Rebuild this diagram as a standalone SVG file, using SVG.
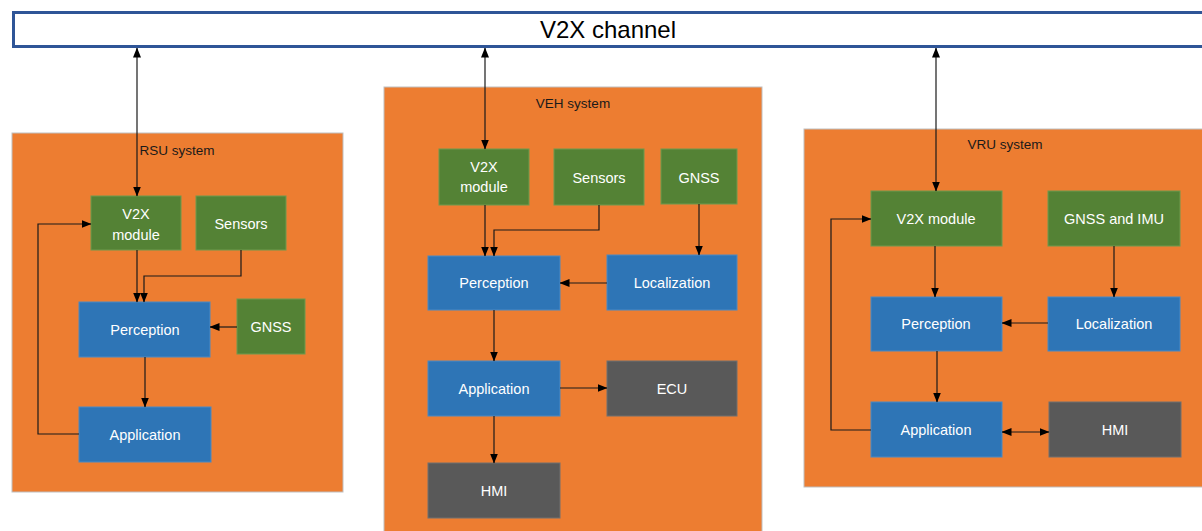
<svg xmlns="http://www.w3.org/2000/svg" width="1202" height="531" viewBox="0 0 1202 531">
<style>
.sys{fill:#ED7D31;stroke:#BFBFBF;stroke-width:1}
.g{fill:#548235;stroke:#6E9A4E;stroke-width:1}
.b{fill:#2E75B6;stroke:#4A8AC4;stroke-width:1}
.k{fill:#595959;stroke:#707070;stroke-width:1}
.t{font-family:"Liberation Sans",Arial,sans-serif;font-size:14.5px;fill:#FFFFFF;text-anchor:middle}
.st{font-family:"Liberation Sans",Arial,sans-serif;font-size:13.5px;fill:#1A1A1A;text-anchor:middle}
.c{fill:none;stroke:#1A1A1A;stroke-width:1.2}
</style>
<defs>
<marker id="ah" markerUnits="userSpaceOnUse" markerWidth="10" markerHeight="10" viewBox="0 0 10 10" refX="9.5" refY="5" orient="auto-start-reverse">
<path d="M0,1 L10,5 L0,9 Z" fill="#000"/>
</marker>
</defs>
<rect width="1202" height="531" fill="#FFFFFF"/>
<g id="channel">
<rect x="13.5" y="12.5" width="1200" height="34" fill="#FFFFFF" stroke="#2F5597" stroke-width="3"/>
<text x="608" y="37.5" font-family="Liberation Sans,Arial,sans-serif" font-size="24" fill="#000" text-anchor="middle">V2X channel</text>
</g>
<g id="rsu-system">
<rect class="sys" x="12" y="133" width="331" height="359"/>
<text class="st" x="177" y="155">RSU system</text>
</g>
<g id="veh-system">
<rect class="sys" x="384" y="87" width="378" height="450"/>
<text class="st" x="573" y="108">VEH system</text>
</g>
<g id="vru-system">
<rect class="sys" x="804" y="129" width="402" height="358"/>
<text class="st" x="1005" y="149">VRU system</text>
</g>
<g id="rsu-v2x"><rect class="g" x="91" y="196" width="90" height="54"/><text class="t" x="136" y="219">V2X</text><text class="t" x="136" y="240">module</text></g>
<g id="rsu-sensors"><rect class="g" x="196" y="196" width="90" height="54"/><text class="t" x="241" y="229">Sensors</text></g>
<g id="rsu-perception"><rect class="b" x="79" y="302" width="131" height="55"/><text class="t" x="145" y="335">Perception</text></g>
<g id="rsu-gnss"><rect class="g" x="237" y="299" width="68" height="55"/><text class="t" x="271" y="332">GNSS</text></g>
<g id="rsu-application"><rect class="b" x="79" y="407" width="132" height="55"/><text class="t" x="145" y="440">Application</text></g>
<g id="veh-v2x"><rect class="g" x="439" y="149" width="90" height="56"/><text class="t" x="484" y="172">V2X</text><text class="t" x="484" y="192">module</text></g>
<g id="veh-sensors"><rect class="g" x="554" y="149" width="90" height="56"/><text class="t" x="599" y="183">Sensors</text></g>
<g id="veh-gnss"><rect class="g" x="661" y="149" width="76" height="55"/><text class="t" x="699" y="183">GNSS</text></g>
<g id="veh-perception"><rect class="b" x="428" y="256" width="132" height="54"/><text class="t" x="494" y="288">Perception</text></g>
<g id="veh-localization"><rect class="b" x="607" y="255" width="130" height="55"/><text class="t" x="672" y="288">Localization</text></g>
<g id="veh-application"><rect class="b" x="428" y="361" width="132" height="55"/><text class="t" x="494" y="394">Application</text></g>
<g id="veh-ecu"><rect class="k" x="607" y="361" width="130" height="55"/><text class="t" x="672" y="394">ECU</text></g>
<g id="veh-hmi"><rect class="k" x="428" y="463" width="132" height="55"/><text class="t" x="494" y="496">HMI</text></g>
<g id="vru-v2x"><rect class="g" x="871" y="191" width="131" height="55"/><text class="t" x="936" y="224">V2X module</text></g>
<g id="vru-gnss"><rect class="g" x="1048" y="191" width="132" height="55"/><text class="t" x="1114" y="224">GNSS and IMU</text></g>
<g id="vru-perception"><rect class="b" x="871" y="297" width="131" height="54"/><text class="t" x="936" y="329">Perception</text></g>
<g id="vru-localization"><rect class="b" x="1048" y="297" width="132" height="54"/><text class="t" x="1114" y="329">Localization</text></g>
<g id="vru-application"><rect class="b" x="871" y="402" width="131" height="55"/><text class="t" x="936" y="435">Application</text></g>
<g id="vru-hmi"><rect class="k" x="1049" y="402" width="132" height="55"/><text class="t" x="1115" y="435">HMI</text></g>
<g id="connectors">
<path class="c" d="M137,48 L137,196" marker-start="url(#ah)" marker-end="url(#ah)"/>
<path class="c" d="M137,250 L137,302" marker-end="url(#ah)"/>
<path class="c" d="M241,250 L241,276 L144,276 L144,302" marker-end="url(#ah)"/>
<path class="c" d="M237,327 L210,327" marker-end="url(#ah)"/>
<path class="c" d="M145,357 L145,407" marker-end="url(#ah)"/>
<path class="c" d="M79,434 L38,434 L38,224 L91,224" marker-end="url(#ah)"/>
<path class="c" d="M485,48 L485,149" marker-start="url(#ah)" marker-end="url(#ah)"/>
<path class="c" d="M485,205 L485,256" marker-end="url(#ah)"/>
<path class="c" d="M599,205 L599,230 L494,230 L494,256" marker-end="url(#ah)"/>
<path class="c" d="M699,204 L699,255" marker-end="url(#ah)"/>
<path class="c" d="M607,283 L560,283" marker-end="url(#ah)"/>
<path class="c" d="M494,310 L494,361" marker-end="url(#ah)"/>
<path class="c" d="M560,388 L607,388" marker-end="url(#ah)"/>
<path class="c" d="M494,416 L494,463" marker-end="url(#ah)"/>
<path class="c" d="M936,48 L936,191" marker-start="url(#ah)" marker-end="url(#ah)"/>
<path class="c" d="M935,246 L935,297" marker-end="url(#ah)"/>
<path class="c" d="M1114,246 L1114,297" marker-end="url(#ah)"/>
<path class="c" d="M1048,323 L1002,323" marker-end="url(#ah)"/>
<path class="c" d="M937,351 L937,402" marker-end="url(#ah)"/>
<path class="c" d="M1002,432 L1049,432" marker-start="url(#ah)" marker-end="url(#ah)"/>
<path class="c" d="M871,430 L831,430 L831,219 L871,219" marker-end="url(#ah)"/>
</g>
</svg>
